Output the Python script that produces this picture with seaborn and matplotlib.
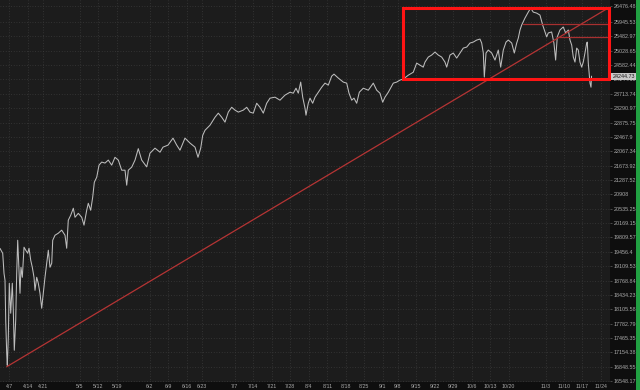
import matplotlib
matplotlib.use("Agg")
import matplotlib.pyplot as plt
import matplotlib.transforms as mtransforms
from matplotlib.patches import Rectangle
from matplotlib.ticker import FixedLocator, FixedFormatter, NullLocator
import numpy as np
import pandas as pd
import seaborn as sns

# ---- data (trading-session position from 2025-04-07, price) ----
sessions = [
    -2.51, -1.78, -1.43, -1.16, -0.97, -0.70, -0.54, -0.27, 0.00, 0.38, 0.81, 1.08, 1.35, 1.73,
    2.00, 2.27, 2.62, 2.89, 3.16, 3.52, 3.98, 4.44, 4.98, 5.33, 5.79, 6.22, 6.68, 6.95, 7.41,
    7.84, 8.30, 8.76, 9.19, 9.65, 10.11, 10.55, 11.01, 11.47, 11.74, 12.36, 13.25, 14.17, 15.06,
    15.52, 15.95, 16.60, 17.31, 17.77, 18.66, 19.58, 20.20, 20.93, 21.36, 22.01, 22.55, 22.99,
    23.64, 24.26, 24.99, 25.88, 26.77, 27.69, 28.58, 29.48, 30.39, 31.29, 31.75, 32.18, 33.10,
    34.00, 34.88, 35.80, 37.15, 38.04, 39.40, 40.75, 41.56, 42.92, 44.27, 45.27, 46.16, 47.51,
    48.86, 50.22, 51.03, 51.76, 52.30, 52.92, 54.27, 55.63, 56.52, 57.44, 58.33, 59.22, 60.14,
    61.03, 61.93, 63.28, 64.20, 65.09, 65.98, 66.90, 67.79, 68.69, 69.60, 70.50, 71.85, 73.20,
    74.55, 75.91, 76.80, 77.53, 78.15, 78.80, 79.34, 79.96, 80.23, 80.85, 81.31, 82.04, 82.67,
    83.56, 84.48, 85.37, 86.26, 87.18, 87.80, 88.97, 90.32, 91.24, 91.86, 92.59, 93.21, 93.94,
    94.65, 95.73, 97.08, 98.43, 99.35, 100.24, 100.97, 101.59, 102.49, 103.84, 104.76, 105.65,
    106.54, 107.90, 109.24, 110.16, 111.05, 111.94, 112.41, 113.30, 114.22, 115.11, 116.00,
    116.92, 117.81, 118.28, 119.17, 120.06, 120.98, 121.87, 122.76, 123.69, 124.58, 125.47,
    126.39, 127.28, 127.74, 128.18, 128.45, 128.91, 129.53, 130.45, 131.34, 132.23, 132.88,
    133.59, 134.32, 134.94, 135.86, 136.56, 137.21, 137.64, 138.10, 138.56, 139.45, 140.34,
    140.99, 141.69, 142.61, 143.50, 144.23, 144.85, 145.31, 145.74, 146.66, 147.28, 147.74,
    148.18, 148.91, 149.80, 150.45, 151.16, 151.62, 152.08, 152.51, 152.97, 153.43, 153.86,
    154.32, 154.78, 155.21, 155.67, 156.13, 156.30, 156.57, 156.84, 157.03, 157.30, 157.45,
]
prices = [
    19540, 19420, 18940, 18775, 17857, 17133, 16878, 17480, 18706, 18016, 18706, 18083, 17200, 17857,
    18940, 19741, 19012, 18472, 19084, 18846, 19569, 19496, 19422, 19544, 19253, 19084, 18846, 18541, 18846,
    18706, 18472, 18129, 18472, 18846, 19180, 19496, 19084, 19180, 19741, 19865, 19916, 19992, 19865,
    19544, 20243, 20367, 20548, 20317, 20418, 20317, 20118, 20496, 20676, 20496, 20834, 21228,
    21362, 21688, 21771, 21744, 21826, 21688, 21902, 21826, 21551, 21551, 21150, 21551, 21633,
    21826, 22140, 21826, 21641, 22014, 22154, 22042, 22182, 22239, 22434, 22239, 22098, 22434,
    22296, 22182, 21902, 22154, 22512, 22656, 22800, 23029, 23147, 23029, 22888, 23177, 23318,
    23235, 23177, 23235, 23318, 23177, 23147, 23436, 23318, 23147, 23436, 23586, 23615, 23526,
    23675, 23762, 23733, 23882, 23733, 24065, 23615, 23294, 23088, 23436, 23586, 23436, 23615,
    23762, 23912, 24034, 23973, 24245, 24306, 24186, 24065, 24034, 23733, 23526, 23586, 23436,
    23762, 23882, 23822, 24034, 23822, 23733, 23466, 23615, 23762, 24034, 24065, 24126,
    24156, 24275, 24364, 24644, 24582, 24520, 24676, 24831, 24894, 24988, 24894,
    24831, 24676, 24520, 24894, 24957, 24800, 24957, 25112, 25144, 25271, 25302,
    25366, 25397, 25271, 24957, 24217, 24957, 25051, 24957, 24738, 25051, 24520,
    25051, 25302, 25366, 25271, 24957, 25271, 25429, 25688, 25849, 26075, 26270,
    26400, 26270, 26237, 26172, 25849, 25624, 25467, 25592, 25624, 25271, 24738,
    25467, 25688, 25785, 25592, 25688, 25366, 25207, 24831, 24676, 25112, 25051,
    24676, 24520, 24676, 24957, 25271, 25302, 24644, 24275, 24034, 23912, 24245,
]

y_tick_values = [26476.48, 25945.53, 25482.97, 25028.65, 24582.44, 24144.18, 23713.74,
                 23290.97, 22875.75, 22467.9, 22067.34, 21673.92, 21287.52, 20908,
                 20535.25, 20169.15, 19809.57, 19456.4, 19109.53, 18768.84, 18434.23,
                 18105.58, 17782.79, 17465.35, 17154.38, 16848.55, 16548.17]
y_tick_labels = ["26476.48", "25945.53", "25482.97", "25028.65", "24582.44", "24144.18",
                 "23713.74", "23290.97", "22875.75", "22467.9", "22067.34", "21673.92",
                 "21287.52", "20908", "20535.25", "20169.15", "19809.57", "19456.4",
                 "19109.53", "18768.84", "18434.23", "18105.58", "17782.79", "17465.35",
                 "17154.38", "16848.55", "16548.17"]

x_label_dates = ["2025-04-07", "2025-04-14", "2025-04-21", "2025-05-05", "2025-05-12",
                 "2025-05-19", "2025-06-02", "2025-06-09", "2025-06-16", "2025-06-23",
                 "2025-07-07", "2025-07-14", "2025-07-21", "2025-07-28", "2025-08-04",
                 "2025-08-11", "2025-08-18", "2025-08-25", "2025-09-01", "2025-09-08",
                 "2025-09-15", "2025-09-22", "2025-09-29", "2025-10-06", "2025-10-13",
                 "2025-10-20", "2025-11-03", "2025-11-10", "2025-11-17", "2025-11-24"]
x_labels = ["4/7", "4/14", "4/21", "5/5", "5/12", "5/19", "6/2", "6/9", "6/16", "6/23",
            "7/7", "7/14", "7/21", "7/28", "8/4", "8/11", "8/18", "8/25", "9/1", "9/8",
            "9/15", "9/22", "9/29", "10/6", "10/13", "10/20", "11/3", "11/10", "11/17", "11/24"]
market_holidays = ["2025-04-18", "2025-05-26", "2025-06-19", "2025-07-04", "2025-09-01"]

last_price = 24244.73
last_label = "24244.73"
box_sessions = (106.46, 162.17)
box_prices = (24165, 26420)
trend_sessions = (-0.70, 162.17)
trend_prices = (16849, 26420)
level_starts = [138.9, 148.1]
level_prices = [25872, 25451]
level_end = 162.17
x_limits = (-2.515, 162.44)
y_limits = (16540, 26671)

# ---- styling ----
FONTS = ["Liberation Sans Narrow", "Liberation Sans", "DejaVu Sans"]
sns.set_style("dark")
plt.rcParams["font.family"] = FONTS

days = pd.bdate_range("2025-04-01", "2025-12-05")
days = days[~days.isin(pd.to_datetime(market_holidays))]
origin = days.searchsorted(pd.Timestamp("2025-04-07"))
x_ticks = [int(days.searchsorted(pd.Timestamp(d))) - origin for d in x_label_dates]

fig = plt.figure(figsize=(6.4, 3.9), dpi=100, facecolor="#0e0e0e")
ax = fig.add_axes([0, 8.5 / 390, 610 / 640, 381.5 / 390])
ax.set_facecolor("#1c1c1c")

sns.lineplot(x=sessions, y=prices, ax=ax, color="#bdbdbd", lw=0.75,
             estimator=None, sort=False, zorder=3)

ax.set_yscale("log")
ax.set_xlim(*x_limits)
ax.set_ylim(*y_limits)

ax.yaxis.set_major_locator(FixedLocator(y_tick_values))
ax.yaxis.set_major_formatter(FixedFormatter(y_tick_labels))
ax.yaxis.set_minor_locator(NullLocator())
ax.xaxis.set_major_locator(FixedLocator(x_ticks))
ax.xaxis.set_major_formatter(FixedFormatter(x_labels))
ax.xaxis.set_minor_locator(NullLocator())
ax.yaxis.tick_right()
ax.tick_params(axis="y", which="major", length=1.5, width=0.6, color="#555555",
               pad=1.0, labelsize=3.9, labelcolor="#aaaaaa", right=True, left=False)
ax.tick_params(axis="x", which="major", length=0, pad=1.6, labelsize=3.8,
               labelcolor="#aaaaaa")
for lab in ax.get_yticklabels() + ax.get_xticklabels():
    lab.set_family(FONTS)
ax.set_xlabel("")
ax.set_ylabel("")

ax.grid(True, which="major", axis="both", color="#3a3a3a", lw=0.6, ls=(0, (1, 2.2)))
for s in ax.spines.values():
    s.set_visible(False)

# trend line and levels
ax.plot(trend_sessions, trend_prices, color="#b53434", lw=0.9, zorder=4)
for xs, lv in zip(level_starts, level_prices):
    ax.plot([xs, level_end], [lv, lv], color="#a83030", lw=0.9, zorder=4)

# red box
ax.add_patch(Rectangle((box_sessions[0], box_prices[0]), box_sessions[1] - box_sessions[0],
                       box_prices[1] - box_prices[0], fill=False, edgecolor="#ff1414",
                       lw=2.2, zorder=5, clip_on=False))

# last price tag
trans = mtransforms.blended_transform_factory(ax.transAxes, ax.transData)
ax.text(1.004, last_price, last_label, transform=trans, fontsize=3.9, color="#1a1a1a",
        family=FONTS, va="center", ha="left", clip_on=False, zorder=6,
        bbox=dict(boxstyle="square,pad=0.2", fc="#c9c9c9", ec="none"))

# green strip at the right edge
fig.patches.append(Rectangle((636 / 640, 0), 4 / 640, 1, transform=fig.transFigure,
                             facecolor="#21a042", edgecolor="none"))

fig.savefig("out.png", dpi=100, facecolor=fig.get_facecolor())
